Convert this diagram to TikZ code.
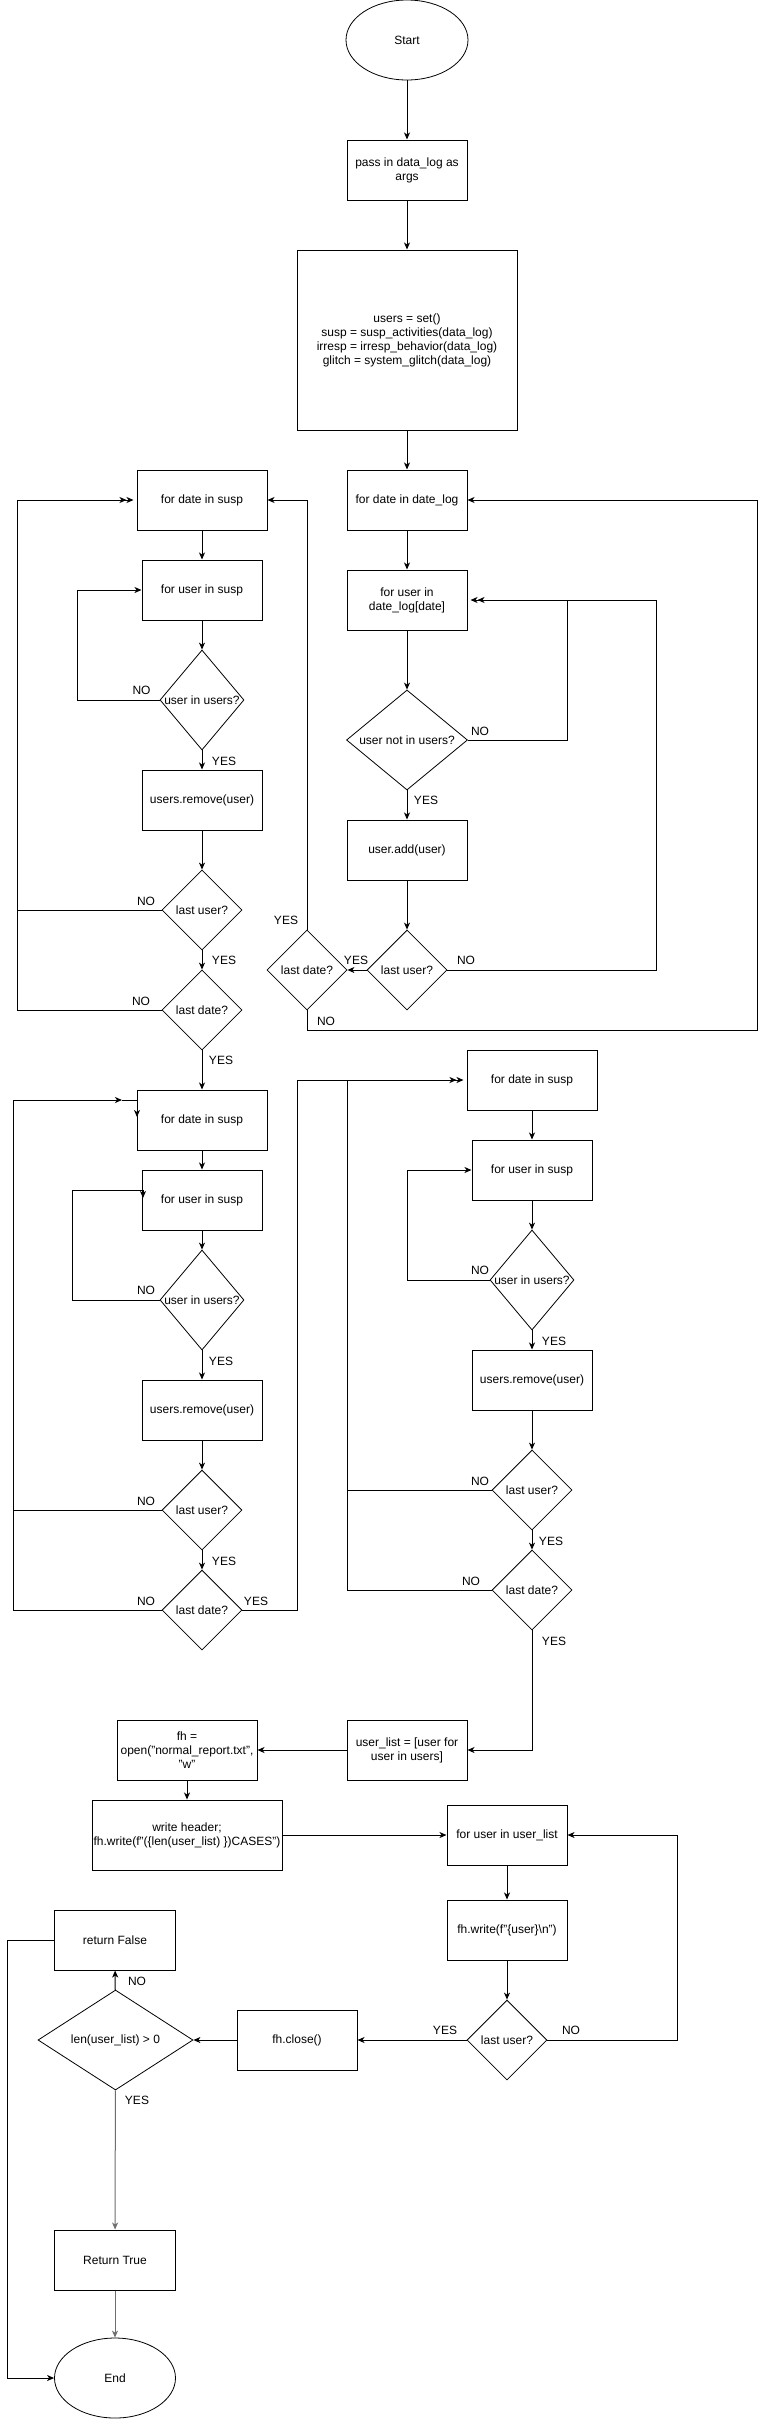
\documentclass[tikz,border=0pt]{standalone}
\usepackage{fontspec}
\setmainfont{Liberation Sans}
\usetikzlibrary{shapes.geometric,arrows.meta}
\newcommand\fs{\fontsize{12pt}{14pt}\selectfont}
\definecolor{gline}{RGB}{110,110,110}
\tikzset{
  box/.style={draw, line width=1pt, rectangle, inner sep=0pt, align=center, font=\fs, minimum height=60pt, minimum width=120pt},
  dia/.style={draw, line width=0.8pt, diamond, inner sep=0pt, minimum width=80pt, minimum height=80pt, label={[font=\fs]center:#1}},
  oval/.style={draw, line width=0.8pt, ellipse, inner sep=0pt, font=\fs, minimum width=122pt, minimum height=80pt},
  lbl/.style={font=\fs, inner sep=0pt},
  con/.style={line width=1pt},
  arr/.style={line width=1pt, -{Stealth[length=7pt,width=6pt,inset=2pt]}},
  arr2/.style={line width=1pt, -{Stealth[length=7pt,width=6pt,inset=2pt] Stealth[length=7pt,width=6pt,inset=2pt,sep=3pt]}},
}
\begin{document}
\begin{tikzpicture}[x=1pt,y=-1pt]
\useasboundingbox[fill=white] (0,0) rectangle (766,2421);
% top
\node[oval] (Start) at (407,40) {Start};
\node[box] (pass) at (407,170) {pass in data\_log as\\args};
\node[box, minimum width=220pt, minimum height=180pt] (big) at (407,340) {users = set()\\susp = susp\_activities(data\_log)\\irresp = irresp\_behavior(data\_log)\\glitch = system\_glitch(data\_log)};
% B column
\node[box] (DL) at (407,500) {for date in date\_log};
\node[box] (B2) at (407,600) {for user in\\date\_log[date]};
\node[dia={user not in users?}, minimum width=121pt, minimum height=100pt] (B3) at (407,740) {};
\node[box] (B4) at (407,850) {user.add(user)};
\node[dia={last user?}] (B5) at (407,970) {};
\node[dia={last date?}] (B6) at (307,970) {};
% A column
\node[box, minimum width=130pt] (A1) at (202,500) {for date in susp};
\node[box] (A2) at (202,590) {for user in susp};
\node[dia={user in users?}, minimum width=84pt, minimum height=100pt] (A3) at (202,700) {};
\node[box] (A4) at (202,800) {users.remove(user)};
\node[dia={last user?}] (A5) at (202,910) {};
\node[dia={last date?}] (A6) at (202,1010) {};
% C column
\node[box, minimum width=130pt] (C1) at (202,1120) {for date in susp};
\node[box] (C2) at (202,1200) {for user in susp};
\node[dia={user in users?}, minimum width=84pt, minimum height=100pt] (C3) at (202,1300) {};
\node[box] (C4) at (202,1410) {users.remove(user)};
\node[dia={last user?}] (C5) at (202,1510) {};
\node[dia={last date?}] (C6) at (202,1610) {};
% D column
\node[box, minimum width=130pt] (D1) at (532,1080) {for date in susp};
\node[box] (D2) at (532,1170) {for user in susp};
\node[dia={user in users?}, minimum width=84pt, minimum height=100pt] (D3) at (532,1280) {};
\node[box] (D4) at (532,1380) {users.remove(user)};
\node[dia={last user?}] (D5) at (532,1490) {};
\node[dia={last date?}] (D6) at (532,1590) {};
% E part
\node[box] (E1) at (407,1750) {user\_list = [user for\\user in users]};
\node[box, minimum width=140pt] (E2) at (187,1750) {fh =\\open("normal\_report.txt",\\"w"};
\node[box, minimum width=190pt, minimum height=70pt] (E3) at (187,1835) {write header;\\fh.write(f"(\{len(user\_list) \})CASES")};
\node[box] (E4) at (507,1835) {for user in user\_list};
\node[box] (E5) at (507,1930) {fh.write(f"\{user\}\textbackslash n")};
\node[dia={last user?}] (E6) at (507,2040) {};
\node[box] (E7) at (297,2040) {fh.close()};
\node[dia={len(user\_list) > 0}, minimum width=155pt, minimum height=100pt] (E8) at (115.5,2040) {};
\node[box, minimum width=121pt] (E9) at (115,1940) {return False};
\node[box, minimum width=121pt] (E10) at (115,2260) {Return True};
\node[oval, minimum width=121pt] (End) at (115,2378) {End};

% coordinates
\coordinate (aO) at (17.5,500);
\coordinate (aI) at (77.5,590);
\coordinate (bN) at (567,600);
\coordinate (bM) at (656,600);
\coordinate (bR) at (757,500);
\coordinate (bB) at (307,1030);
\coordinate (cO) at (13,1100);
\coordinate (cA) at (122,1100);
\coordinate (cT) at (137,1100);
\coordinate (cTd) at (137,1117);
\coordinate (cI) at (72,1190);
\coordinate (cIe) at (143,1190);
\coordinate (cIed) at (143,1198);
\coordinate (dO) at (297,1080);
\coordinate (dI) at (347,1080);
\coordinate (dL) at (407,1280);
\coordinate (eR) at (677,2040);
\coordinate (eL) at (7,1940);

% main flow
\draw[arr] (Start) -- (pass);
\draw[arr] (pass) -- (big);
\draw[arr] (big) -- (DL);
\draw[arr] (DL) -- (B2);
\draw[arr] (B2) -- (B3);
\draw[arr] (B3) -- (B4);
\draw[arr] (B4) -- (B5);
\draw[arr] (B5) -- (B6);
\draw[con] (B3.east) -| (bN);
\draw[arr2] (B5.east) -| (bM) -- (B2.east);
\draw[arr] (B6.north) |- (A1.east);
\draw[arr] (B6.south) -- (bB) -| (bR) -- (DL.east);

\draw[arr] (A1) -- (A2);
\draw[arr] (A2) -- (A3);
\draw[arr] (A3) -- (A4);
\draw[arr] (A4) -- (A5);
\draw[arr] (A5) -- (A6);
\draw[arr] (A3.west) -| (aI) -- (A2.west);
\draw[con] (A5.west) -- (A5.west -| aO);
\draw[arr2] (A6.west) -| (aO) -- (A1.west);
\draw[arr] (A6) -- (C1);

\draw[arr] (C1) -- (C2);
\draw[arr] (C2) -- (C3);
\draw[arr] (C3) -- (C4);
\draw[arr] (C4) -- (C5);
\draw[arr] (C5) -- (C6);
\draw[con] (C5.west) -- (C5.west -| cO);
\draw[arr] (C6.west) -| (cO) -- (cA);
\draw[con] (cA) -- (cT);
\draw[arr] (cT) -- (cTd);
\draw[con] (C3.west) -| (cI) -- (cIe);
\draw[arr] (cIe) -- (cIed);
\draw[arr2] (C6.east) -| (dO) -- (D1.west);

\draw[arr] (D1) -- (D2);
\draw[arr] (D2) -- (D3);
\draw[arr] (D3) -- (D4);
\draw[arr] (D4) -- (D5);
\draw[arr] (D5) -- (D6);
\draw[arr] (D3.west) -- (dL) |- (D2.west);
\draw[con] (D5.west) -- (D5.west -| dI);
\draw[con] (D6.west) -| (dI);
\draw[arr] (D6.south) |- (E1.east);

\draw[arr] (E1) -- (E2);
\draw[arr] (E2) -- (E3);
\draw[arr] (E3) -- (E4);
\draw[arr] (E4) -- (E5);
\draw[arr] (E5) -- (E6);
\draw[arr] (E6.east) -- (eR) |- (E4.east);
\draw[arr] (E6) -- (E7);
\draw[arr] (E7) -- (E8);
\draw[arr] (E8) -- (E9);
\draw[arr, gline] (E8) -- (E10);
\draw[arr, gline] (E10) -- (End);
\draw[arr] (E9.west) -- (eL) |- (End.west);

% labels
\node[lbl] (l1) at (141.5,690) {NO};
\node[lbl] (l2) at (224,761) {YES};
\node[lbl] (l3) at (480,731) {NO};
\node[lbl] (l4) at (426,800) {YES};
\node[lbl] (l5) at (146,901) {NO};
\node[lbl] (l6) at (224,960) {YES};
\node[lbl] (l7) at (141,1001) {NO};
\node[lbl] (l8) at (221,1060) {YES};
\node[lbl] (l9) at (466,960) {NO};
\node[lbl] (l10) at (356,960) {YES};
\node[lbl] (l11) at (286,920) {YES};
\node[lbl] (l12) at (326,1021) {NO};
\node[lbl] (l13) at (146,1290) {NO};
\node[lbl] (l14) at (221,1361) {YES};
\node[lbl] (l15) at (146,1501) {NO};
\node[lbl] (l16) at (224,1561) {YES};
\node[lbl] (l17) at (146,1601) {NO};
\node[lbl] (l18) at (256,1601) {YES};
\node[lbl] (l19) at (480,1270) {NO};
\node[lbl] (l20) at (554,1341) {YES};
\node[lbl] (l21) at (480,1481) {NO};
\node[lbl] (l22) at (551,1541) {YES};
\node[lbl] (l23) at (471,1581) {NO};
\node[lbl] (l24) at (554,1641) {YES};
\node[lbl] (l25) at (571,2030) {NO};
\node[lbl] (l26) at (445,2030) {YES};
\node[lbl] (l27) at (137,1981) {NO};
\node[lbl] (l28) at (137,2100) {YES};
\end{tikzpicture}
\end{document}
